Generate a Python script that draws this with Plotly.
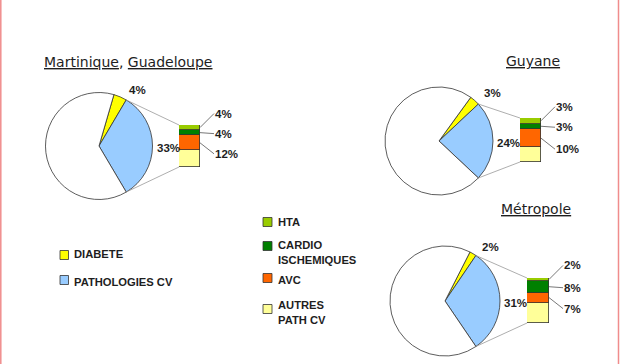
import math
import plotly.graph_objects as go

W, H = 624, 364

# ---- data ----
regions = ["Martinique, Guadeloupe", "Guyane", "Métropole"]
region_titles = ["<u>Martinique</u>, <u>Guadeloupe</u>", "<u>Guyane</u>", "<u>Métropole</u>"]
diabete = [4, 3, 2]
patho_cv = [33, 24, 31]
hta = [4, 3, 2]
cardio = [4, 3, 8]
avc = [12, 10, 7]
autres = [13, 8, 14]
bar_labels = [["4%", "4%", "12%"], ["3%", "3%", "10%"], ["2%", "8%", "7%"]]

pie_legend = ["DIABETE", "PATHOLOGIES CV"]
bar_legend = ["HTA", "CARDIO<br>ISCHEMIQUES", "AVC", "AUTRES<br>PATH CV"]

# ---- styles ----
C_YEL, C_BLUE, C_WHITE = "#FFFF00", "#99CCFF", "#FFFFFF"
C_HTA, C_CARD, C_AVC, C_AUT = "#99CC00", "#008000", "#FF6600", "#FFFF99"
EDGE = "#333333"
TXT = "#1e1e1e"

# layout geometry (pixels)
pie_geo = [(99, 146, 53.5), (439, 141, 54), (445, 301, 55)]      # cx, cy, r
bar_geo = [(179, 200, 125, 167), (520, 541, 118, 162), (527, 549, 278, 323)]  # x0,x1,ytop,ybot
title_pos = [(42, 62, "left"), (533, 61, "center"), (536, 209, "center")]
label_off = [-14, 1, 11]

def px(x):
    return x / W

def py(y):
    return 1 - y / H

fig = go.Figure()
annotations = []
shapes = []
lab_font = dict(family="Liberation Sans, Arial", size=11.5, color=TXT)

for i in range(3):
    cx, cy, r = pie_geo[i]
    y_v, b_v = diabete[i], patho_cv[i]
    w_v = 100 - y_v - b_v
    start_math = b_v * 1.8 + y_v * 3.6  # yellow starts here (deg, math)
    rotation = 90 - start_math
    fig.add_trace(go.Pie(
        values=[y_v, b_v, w_v],
        labels=["DIABETE", "PATHOLOGIES CV", "AUTRES"],
        marker=dict(colors=[C_YEL, C_BLUE, C_WHITE], line=dict(color=EDGE, width=0.8)),
        sort=False, direction="clockwise", rotation=rotation,
        textinfo="none", hoverinfo="label+percent", showlegend=False,
        domain=dict(x=[px(cx - r), px(cx + r)], y=[py(cy + r), py(cy - r)]),
    ))
    # pie labels
    ymid = math.radians(b_v * 1.8 + y_v * 1.8)
    yx, yy = cx + r * math.cos(ymid), cy - r * math.sin(ymid)
    annotations.append(dict(x=px(yx), y=py(yy), xref="paper", yref="paper",
                            text=f"<b>{y_v}%</b>", showarrow=False, xanchor="left",
                            yanchor="middle", xshift=7, yshift=7, font=lab_font))
    annotations.append(dict(x=px(cx + r), y=py(cy), xref="paper", yref="paper",
                            text=f"<b>{b_v}%</b>", showarrow=False, xanchor="left",
                            yanchor="middle", xshift=2, yshift=-2, font=lab_font))

    # bars
    bx0, bx1, bt, bb = bar_geo[i]
    ax_id = i + 2
    xa, ya = f"x{ax_id}", f"y{ax_id}"
    for val, col in [(autres[i], C_AUT), (avc[i], C_AVC), (cardio[i], C_CARD), (hta[i], C_HTA)]:
        fig.add_trace(go.Bar(x=[0], y=[val], width=1, marker=dict(color=col, line=dict(color=EDGE, width=0.8)),
                             xaxis=xa, yaxis=ya, showlegend=False, hoverinfo="y"))
    total = hta[i] + cardio[i] + avc[i] + autres[i]
    fig.layout[f"xaxis{ax_id}"] = dict(domain=[px(bx0), px(bx1)], range=[-0.5, 0.5], visible=False,
                                        anchor=ya, fixedrange=True)
    fig.layout[f"yaxis{ax_id}"] = dict(domain=[py(bb), py(bt)], range=[0, total], visible=False,
                                        anchor=xa, fixedrange=True)
    # bar labels with leader lines
    mids = [total - hta[i] / 2, total - hta[i] - cardio[i] / 2, total - hta[i] - cardio[i] - avc[i] / 2]
    for k in range(3):
        annotations.append(dict(x=0.5, y=mids[k], xref=xa, yref=ya, text=f"<b>{bar_labels[i][k]}</b>",
                                showarrow=True, arrowhead=0, arrowwidth=0.8, arrowcolor="#555555",
                                ax=14, ay=label_off[k], xanchor="left", yanchor="middle",
                                standoff=0, borderpad=0, font=lab_font))
    # connector lines from pie (blue slice edges) to bar
    a1 = math.radians(b_v * 1.8)
    a2 = math.radians(-b_v * 1.8)
    for a, by in [(a1, bt), (a2, bb)]:
        shapes.append(dict(type="line", xref="paper", yref="paper",
                           x0=px(cx + r * math.cos(a)), y0=py(cy - r * math.sin(a)),
                           x1=px(bx0), y1=py(by), line=dict(color="#999999", width=0.8)))
    # title
    tx, ty, anc = title_pos[i]
    annotations.append(dict(x=px(tx), y=py(ty), xref="paper", yref="paper", text=region_titles[i],
                            showarrow=False, xanchor=anc, yanchor="middle",
                            font=dict(family="DejaVu Sans", size=14, color=TXT)))

# legends
leg_font = dict(family="Liberation Sans, Arial", size=11.2, color=TXT)
left_items = [(pie_legend[0], C_YEL, 255, 254), (pie_legend[1], C_BLUE, 280, 282)]
for t, c, sy, ty in left_items:
    shapes.append(dict(type="rect", xref="paper", yref="paper", x0=px(60), x1=px(68.5),
                       y0=py(sy + 4.5), y1=py(sy - 4.5), fillcolor=c, line=dict(color=EDGE, width=0.8)))
    annotations.append(dict(x=px(72), y=py(ty), xref="paper", yref="paper", text=f"<b>{t}</b>",
                            showarrow=False, xanchor="left", yanchor="middle", font=leg_font))
right_items = [(bar_legend[0], C_HTA, 222, 222), (bar_legend[1], C_CARD, 246, 252),
               (bar_legend[2], C_AVC, 278, 280), (bar_legend[3], C_AUT, 309, 312.5)]
for t, c, sy, ty in right_items:
    shapes.append(dict(type="rect", xref="paper", yref="paper", x0=px(263), x1=px(272),
                       y0=py(sy + 4.5), y1=py(sy - 4.5), fillcolor=c, line=dict(color=EDGE, width=0.8)))
    annotations.append(dict(x=px(276), y=py(ty), xref="paper", yref="paper", text=f"<b>{t}</b>",
                            showarrow=False, xanchor="left", yanchor="middle", align="left", font=leg_font))

# page border lines (left/right)
for xb in [0.8, 618.5]:
    shapes.append(dict(type="line", xref="paper", yref="paper", x0=px(xb), x1=px(xb), y0=0, y1=1,
                       line=dict(color="#F08C8C", width=1.5)))

fig.update_layout(width=W, height=H, margin=dict(l=0, r=0, t=0, b=0),
                  paper_bgcolor="white", plot_bgcolor="white", barmode="stack", bargap=0,
                  annotations=annotations, shapes=shapes, showlegend=False,
                  xaxis=dict(visible=False), yaxis=dict(visible=False))
fig.write_html("out.html")
